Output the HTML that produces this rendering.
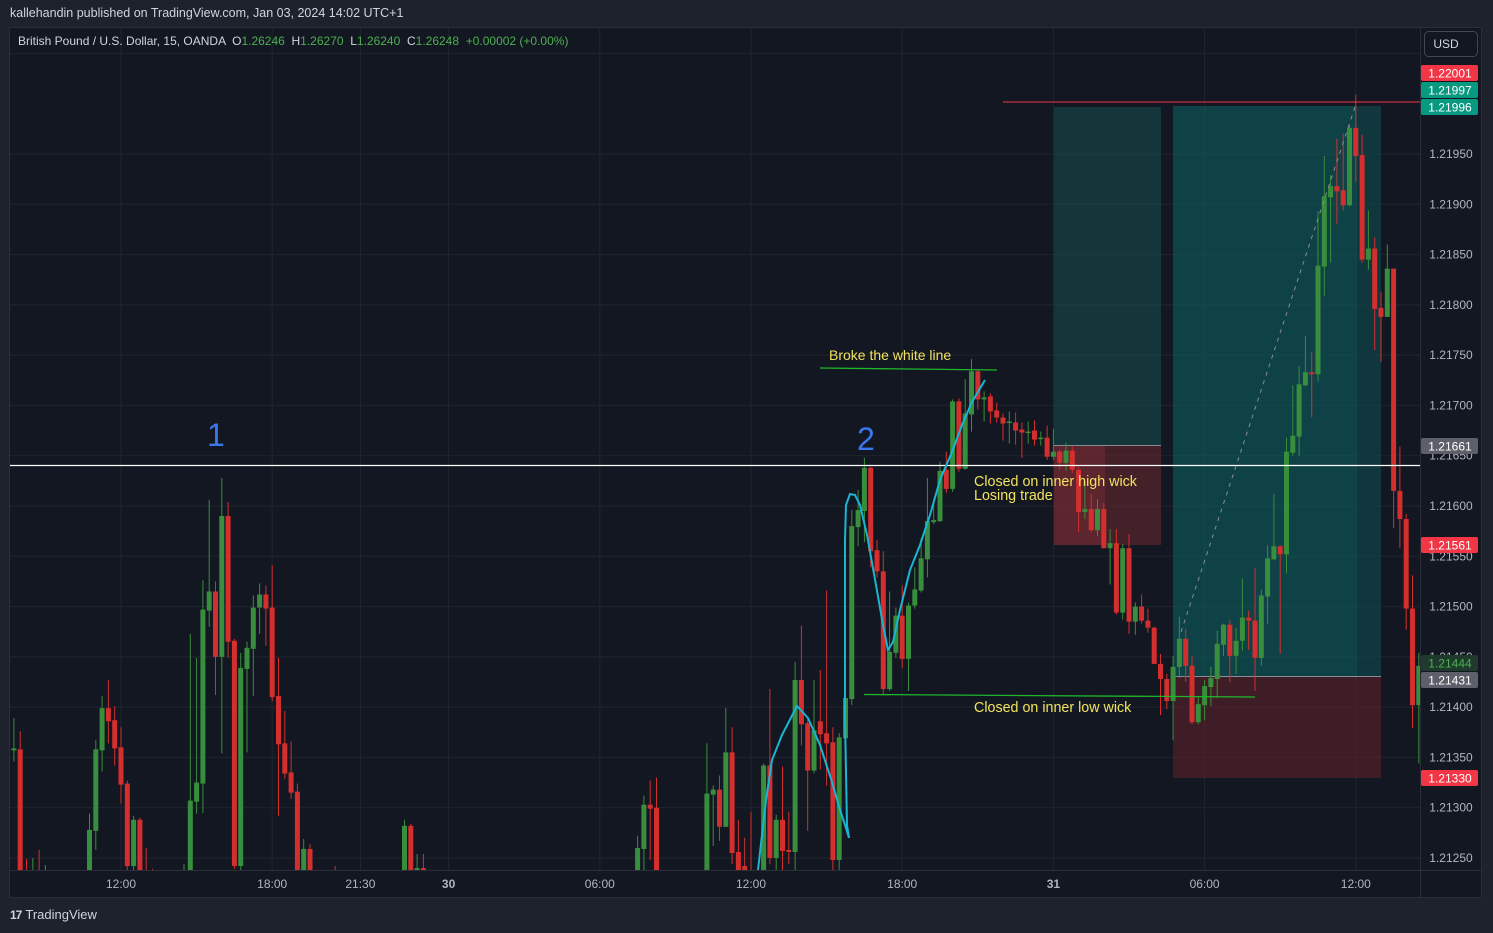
<!DOCTYPE html>
<html><head><meta charset="utf-8"><style>
html,body{margin:0;padding:0;background:#1e222d;width:1493px;height:933px;overflow:hidden;font-family:"Liberation Sans",sans-serif;}
#hdr{position:absolute;left:10px;top:6px;font-size:12.5px;color:#d1d4dc;}
#legend{position:absolute;left:18px;top:34px;font-size:12px;color:#d1d4dc;white-space:nowrap;z-index:3}
#legend .g{color:#4caf50}
#foot{position:absolute;left:10px;top:907px;font-size:13px;color:#d1d4dc}
#foot b{font-size:12px;letter-spacing:-1px;margin-right:4px}
svg{position:absolute;left:0;top:0}
</style></head><body>
<div id="hdr">kallehandin published on TradingView.com, Jan 03, 2024 14:02 UTC+1</div>
<div id="legend">British Pound / U.S. Dollar, 15, OANDA &nbsp;O<span class="g">1.26246</span> &nbsp;H<span class="g">1.26270</span> &nbsp;L<span class="g">1.26240</span> &nbsp;C<span class="g">1.26248</span> &nbsp;<span class="g">+0.00002 (+0.00%)</span></div>
<div id="foot"><b>17</b>TradingView</div>
<svg id="chart" width="1493" height="933"></svg>
<script>
// Prices in points above 1.21000 (price = 1.21 + pts/100000)
const opensPts=[357,358,237,224,224,214,219,214,209,214,212,219,224,277,357,399,387,360,324,242,288,229,224,219,214,219,224,229,229,306,324,496,515,450,590,466,242,438,458,499,512,499,411,364,335,316,229,259,226,219,224,214,209,204,209,204,199,204,209,214,219,224,226,282,229,240,232,225,218,210,204,196,200,192,185,190,184,178,183,176,170,175,182,188,184,190,196,192,198,205,200,207,212,208,215,220,216,222,226,224,259,303,300,226,220,214,208,212,206,214,224,313,318,281,355,256,242,238,224,226,342,250,288,258,256,427,384,337,386,374,365,248,369,408,579,595,638,556,535,418,454,491,448,501,516,547,584,585,636,617,704,637,691,734,706,709,695,688,683,683,676,673,675,667,668,649,654,643,655,636,594,597,576,597,558,563,494,558,485,500,486,479,443,428,406,440,468,441,385,402,420,428,462,482,451,466,489,486,449,510,547,560,552,653,669,720,733,731,838,907,918,914,899,976,949,845,856,797,788,836,615,587,498,402];
const closesPts=[359,237,232,229,214,219,214,209,214,212,219,224,278,358,399,386,359,323,242,288,229,224,219,214,219,224,229,232,307,325,497,515,450,590,465,242,439,459,499,512,498,410,363,334,315,229,259,226,219,224,214,209,204,209,204,199,204,209,214,219,224,226,282,229,240,232,225,218,210,204,196,200,192,185,190,184,178,183,176,170,175,182,188,184,190,196,192,198,205,200,207,212,208,215,220,216,222,226,224,260,303,299,226,220,214,208,212,206,214,224,314,318,281,355,255,229,238,224,226,342,250,288,257,256,427,383,337,377,373,364,248,370,409,580,596,638,555,535,418,455,491,448,501,517,548,585,586,635,617,704,637,692,734,706,708,694,688,682,684,675,673,674,666,668,649,654,643,655,636,594,597,576,597,558,563,494,558,485,500,486,479,443,428,406,440,468,441,385,403,421,429,463,482,451,466,489,486,449,511,548,560,552,654,670,721,733,731,839,908,918,913,899,976,948,845,856,796,788,836,615,587,498,402,441];
const highsPts=[389,376,249,250,258,243,229,224,224,226,229,236,294,367,411,427,401,380,327,292,290,260,239,229,228,234,238,244,473,449,526,606,525,628,604,468,454,465,511,523,521,541,449,396,366,324,269,264,234,232,229,242,219,216,216,214,212,219,224,229,232,234,288,284,254,254,236,230,222,215,208,205,204,197,196,194,188,190,186,180,182,188,193,194,198,202,204,206,210,212,214,218,220,222,226,228,230,232,232,272,312,327,330,232,226,220,218,220,220,230,364,322,332,399,380,288,270,296,234,344,418,293,341,296,445,481,388,427,437,516,380,374,441,596,616,648,639,566,555,515,499,521,504,539,568,628,607,644,654,706,707,726,746,736,714,712,703,692,694,693,683,684,685,674,680,677,656,663,659,639,624,612,607,603,577,577,562,572,504,512,498,480,453,433,451,490,478,451,410,427,440,476,483,487,479,528,496,538,517,561,612,561,668,720,739,769,753,893,948,929,965,970,979,1009,969,894,867,813,860,836,659,592,531,454];
const lowsPts=[346,234,224,214,209,209,204,199,199,204,204,209,219,258,336,364,342,304,234,234,219,214,209,204,204,209,214,219,224,294,295,480,412,354,449,239,237,355,411,473,461,406,292,329,309,219,224,219,214,214,204,204,194,199,194,192,194,199,204,209,214,216,222,224,226,226,220,212,205,198,190,188,186,180,181,178,172,174,170,164,166,170,178,180,180,186,188,188,194,196,196,202,204,204,210,212,212,218,218,219,234,248,219,214,208,202,202,200,200,208,219,262,267,281,244,224,232,219,214,219,244,234,234,244,234,362,277,334,338,322,234,234,364,402,560,564,539,529,412,416,449,439,416,498,514,529,582,584,613,614,634,636,674,696,684,682,683,665,662,661,648,662,660,660,646,646,636,635,633,574,587,574,570,558,522,492,487,473,472,483,474,443,392,398,367,429,425,383,383,387,401,409,451,425,433,456,457,416,441,483,546,453,533,650,650,719,688,724,809,842,880,894,898,922,842,835,755,743,788,578,558,477,379,344];
const priceTicks=[1.2125,1.2130,1.2135,1.2140,1.2145,1.2150,1.2155,1.2160,1.2165,1.2170,1.2175,1.2180,1.2185,1.2190,1.2195];
const timeTickIdx=[17,41,55,69,93,117,141,165,189,213];
const timeTickLabels=["12:00","18:00","21:30","30","06:00","12:00","18:00","31","06:00","12:00"];

const NS="http://www.w3.org/2000/svg";
const svg=document.getElementById('chart');
function X(i){return 13.9+i*6.3;}
function Y(p){return 154+(1.2195-p)*100571;}
function P(pts){return 1.21+pts/100000;}
function mk(tag,attrs,parent){const e=document.createElementNS(NS,tag);for(const k in attrs)e.setAttribute(k,attrs[k]);(parent||svg).appendChild(e);return e;}

const bg=mk('rect',{x:9.5,y:27.5,width:1472,height:870,fill:'#131722',stroke:'#2a2e39'});


mk('line',{x1:1420.5,y1:27,x2:1420.5,y2:897,stroke:'#2a2e39'});
mk('line',{x1:10,y1:870.5,x2:1481,y2:870.5,stroke:'#2a2e39'});
mk('line',{x1:10,y1:53.5,x2:1420,y2:53.5,stroke:'#1f2330'});

const defs=mk('defs',{});
const cp=mk('clipPath',{id:'clip'},defs);
mk('rect',{x:10,y:28,width:1410,height:842},cp);
const plot=mk('g',{'clip-path':'url(#clip)'});



priceTicks.forEach(p=>{
  const y=Y(p);
  const g=mk('line',{x1:10,x2:1420,y1:y,y2:y,stroke:'#21252f'},plot);
  
  
  const t=mk('text',{x:1451,y:y+4,fill:'#b2b5be','font-size':12,'text-anchor':'middle','font-family':'Liberation Sans, sans-serif'});
  t.textContent=p.toFixed(5);
  
  
});
timeTickIdx.forEach((i,k)=>{
  const x=X(i);
  const g=mk('line',{x1:x,x2:x,y1:28,y2:870,stroke:'#21252f'},plot);
  
  
  const t=mk('text',{x:x,y:888,fill:'#b2b5be','font-size':12,'text-anchor':'middle','font-family':'Liberation Sans, sans-serif','font-weight':(timeTickLabels[k].length<3?'bold':'normal')});
  t.textContent=timeTickLabels[k];
  
  
});

function box(x,y,w,h,fill,name){const r=mk('rect',{x:x,y:y,width:w,height:h,fill:fill},plot);return r;}
box(1054,107,107,338,'rgba(22,80,80,0.55)','long-position-1-target-zone');
box(1054,445,107,100,'rgba(110,40,45,0.55)','long-position-1-stop-zone');
box(1054,445,51,100,'rgba(140,50,55,0.35)','long-position-1-stop-fill');
mk('line',{x1:1054,x2:1161,y1:445.5,y2:445.5,stroke:'#8a8d96'},plot);
box(1173,106,208,570,'rgba(14,95,95,0.6)','long-position-2-target-zone');
box(1357,106,24,570,'rgba(19,23,34,0.25)','long-position-2-target-tail');
box(1173,676,208,102,'rgba(100,35,42,0.55)','long-position-2-stop-zone');
mk('line',{x1:1173,x2:1381,y1:676.5,y2:676.5,stroke:'#8a8d96'},plot);

const N=opensPts.length;
for(let i=0;i<N;i++){
  const o=P(opensPts[i]),c=P(closesPts[i]),h=P(highsPts[i]),l=P(lowsPts[i]);
  const up=c>=o, col=up?'#388e3c':'#d32f2f', x=X(i);
  const g=mk('g',{},plot);
  
  
  mk('line',{x1:x,x2:x,y1:Y(h),y2:Y(l),stroke:col,'stroke-width':1},g);
  const yt=Math.min(Y(o),Y(c)),bh=Math.max(1.5,Math.abs(Y(o)-Y(c)));
  mk('rect',{x:x-2.5,y:yt,width:5,height:bh,fill:col},g);
}

function ln(a,name,attrs){const e=mk('line',Object.assign({x1:a[0],y1:a[1],x2:a[2],y2:a[3]},attrs),plot);}
ln([10,465.5,1420,465.5],'white-level-line',{stroke:'#ffffff','stroke-width':1.3});
ln([1003,102,1420,102],'red-high-line',{stroke:'#f23645','stroke-width':1});
ln([820,368,997,370],'broke-line-marker',{stroke:'#1fb82b','stroke-width':1.3});
ln([864,694.5,1255,697],'inner-low-wick-line',{stroke:'#1fb82b','stroke-width':1.3});
ln([1181,632,1356,104],'trade-path-dashed',{stroke:'#8a8d96','stroke-width':1,'stroke-dasharray':'4 5'});

const curve=mk('polyline',{points:'758,870 766,800 772,760 782,735 797,706 808,718 820,745 832,782 840,810 846,828 849,838 847,825 845,720 845,540 846,505 850,494 855,495 860,505 867,535 876,585 883,625 888,650 893,642 900,610 910,570 920,545 930,515 940,480 952,452 962,425 972,402 985,380',fill:'none',stroke:'#19b6d3','stroke-width':2},plot);



function tx(x,y,s,size,fill,name){const t=mk('text',{x:x,y:y,fill:fill,'font-size':size,'font-family':'Liberation Sans, sans-serif'},plot);t.textContent=s;}
tx(829,360,'Broke the white line',14,'#f2e35c','broke-white-line-note');
tx(974,486,'Closed on inner high wick',14.3,'#f2e35c','inner-high-wick-note');
tx(974,500,'Losing trade',14.3,'#f2e35c','losing-trade-note');
tx(974,712,'Closed on inner low wick',14.3,'#f2e35c','inner-low-wick-note');
tx(207,446,'1',32,'#3b78f0','label-1');
tx(857,450,'2',32,'#3b78f0','label-2');

function badge(y,s,bgc,fg,name){const g=mk('g',{});
  mk('rect',{x:1421,y:y-8,width:57,height:16,rx:2,fill:bgc},g);
  const t=mk('text',{x:1450,y:y+4.5,fill:fg,'font-size':12,'text-anchor':'middle','font-family':'Liberation Sans, sans-serif'},g);t.textContent=s;}
badge(73,'1.22001','#f23645','#fff','badge-high');
badge(90,'1.21997','#089981','#fff','badge-target-1');
badge(107,'1.21996','#089981','#fff','badge-target-2');
badge(446,'1.21661','#5d606b','#fff','badge-white-line');
badge(545,'1.21561','#f23645','#fff','badge-stop-1');
badge(663,'1.21444','#1f3a2c','#4caf50','badge-last-price');
badge(680,'1.21431','#5d606b','#fff','badge-entry-2');
badge(778,'1.21330','#f23645','#fff','badge-stop-2');

const ub=mk('g',{});
mk('rect',{x:1424.5,y:31.5,width:53,height:25,rx:4,fill:'#131722',stroke:'#434651'},ub);
const ut=mk('text',{x:1446,y:48,fill:'#d1d4dc','font-size':12,'text-anchor':'middle','font-family':'Liberation Sans, sans-serif'},ub);ut.textContent='USD';
</script>
</body></html>
